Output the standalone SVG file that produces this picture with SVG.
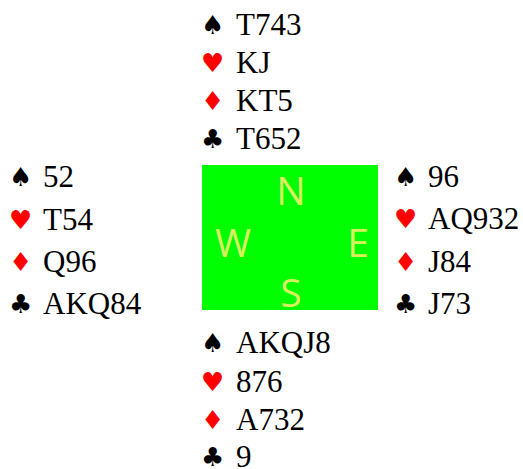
<svg xmlns="http://www.w3.org/2000/svg" width="523" height="469" viewBox="0 0 523 469">
<style>
.s{font-size:26px}
.c{font-size:31px;fill:#000}
.b{fill:#000}
.r{fill:#ff0000}
.d{font-size:39px;fill:#d8f060}
</style>
<rect width="523" height="469" fill="#fff"/>
<g id="north">
<text class="c" font-family="serif" x="236" y="35">T743</text>
<text class="c" font-family="serif" x="236" y="73">KJ</text>
<text class="c" font-family="serif" x="236" y="111">KT5</text>
<text class="c" font-family="serif" x="236" y="149">T652</text>
<text class="s b" font-family="DejaVu Sans" x="201" y="34">&#9824;</text>
<text class="s r" font-family="DejaVu Sans" x="201" y="72">&#9829;</text>
<text class="s r" font-family="DejaVu Sans" x="201" y="110">&#9830;</text>
<text class="s b" font-family="DejaVu Sans" x="201" y="148">&#9827;</text>
</g>
<g id="west">
<text class="c" font-family="serif" x="43" y="187">52</text>
<text class="c" font-family="serif" x="43" y="230">T54</text>
<text class="c" font-family="serif" x="43" y="272">Q96</text>
<text class="c" font-family="serif" x="43" y="314">AKQ84</text>
<text class="s b" font-family="DejaVu Sans" x="9" y="186">&#9824;</text>
<text class="s r" font-family="DejaVu Sans" x="9" y="229">&#9829;</text>
<text class="s r" font-family="DejaVu Sans" x="9" y="271">&#9830;</text>
<text class="s b" font-family="DejaVu Sans" x="9" y="313">&#9827;</text>
</g>
<g id="east">
<text class="c" font-family="serif" x="428" y="187">96</text>
<text class="c" font-family="serif" x="428" y="229">AQ932</text>
<text class="c" font-family="serif" x="428" y="272">J84</text>
<text class="c" font-family="serif" x="428" y="314">J73</text>
<text class="s b" font-family="DejaVu Sans" x="394" y="186">&#9824;</text>
<text class="s r" font-family="DejaVu Sans" x="394" y="228">&#9829;</text>
<text class="s r" font-family="DejaVu Sans" x="394" y="271">&#9830;</text>
<text class="s b" font-family="DejaVu Sans" x="394" y="313">&#9827;</text>
</g>
<g id="south">
<text class="c" font-family="serif" x="236" y="353">AKQJ8</text>
<text class="c" font-family="serif" x="236" y="392">876</text>
<text class="c" font-family="serif" x="236" y="430">A732</text>
<text class="c" font-family="serif" x="236" y="467">9</text>
<text class="s b" font-family="DejaVu Sans" x="201" y="352">&#9824;</text>
<text class="s r" font-family="DejaVu Sans" x="201" y="391">&#9829;</text>
<text class="s r" font-family="DejaVu Sans" x="201" y="429">&#9830;</text>
<text class="s b" font-family="DejaVu Sans" x="201" y="466">&#9827;</text>
</g>
<g id="compass">
<rect x="202" y="165" width="176" height="145" fill="#00ff00"/>
<text class="d" font-family="Open Sans" text-anchor="middle" x="291" y="205">N</text>
<text class="d" font-family="Open Sans" text-anchor="middle" x="233" y="257">W</text>
<text class="d" font-family="Open Sans" text-anchor="middle" x="358" y="257">E</text>
<text class="d" font-family="Open Sans" text-anchor="middle" x="291" y="307">S</text>
</g>
<g id="connectors"/>
</svg>
